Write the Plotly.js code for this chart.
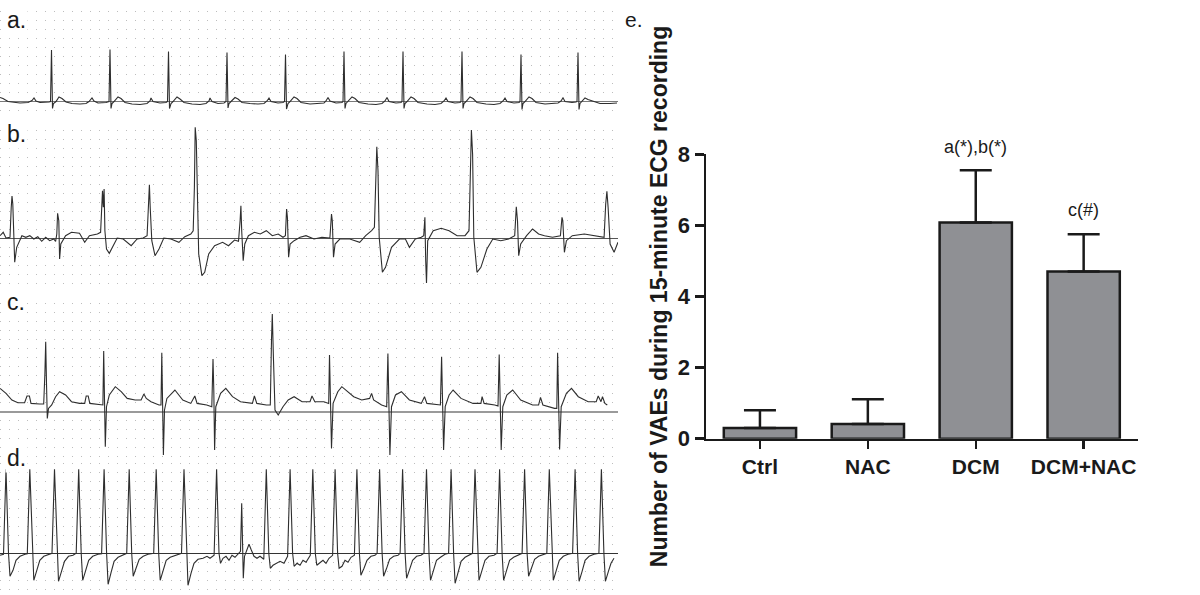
<!DOCTYPE html>
<html>
<head>
<meta charset="utf-8">
<script src="https://cdn.plot.ly/plotly-3.0.1.min.js"></script>
<style>html,body{margin:0;padding:0;background:#fff;}#chart{width:1200px;height:595px;}</style>
</head>
<body>
<div id="chart"></div>
<script>
// ---- ECG traces: [time (arbitrary units), amplitude relative to isoelectric line] ----
const ecgA = [[0,4],[3,3],[8,0],[14,-1],[20,-1.5],[28,-1],[32,1],[34,3.5],[36,0.5],[40,-1],[46,-1],[49,-0.5],[50.5,0],[51.5,51.5],[52.5,-7],[53.5,-2],[56,0],[59,4.5],[62,3],[66,-0.5],[72,-2],[80,-2.5],[86,-2],[89,0],[92,3.5],[94,0.5],[98,-1.5],[106,-1],[109,0],[110,52],[111,-7],[112,-2],[114,0],[118,4.5],[121,3],[125,-1],[132,-2.5],[140,-3],[147,-2],[150,0.5],[151,3.5],[153,0],[160,-1.5],[166,-1],[167.5,0],[168.5,50],[169.5,-7],[171,-2],[173,0],[177,4.5],[180,2.5],[184,-1],[192,-2.5],[200,-3],[206,-2],[209,0.5],[210,3.5],[212,0],[218,-2],[224,-1.5],[226,0],[227,49],[228,-6.5],[229,-2],[231,0],[235,4],[238,2.5],[242,-1],[250,-2],[258,-2.5],[264,-2],[267,0.5],[269,3.5],[271,0],[278,-1.5],[283,-1],[284.5,0],[285.5,47],[286.5,-7.5],[288,-2],[290,0],[294,4.5],[297,3],[301,-1],[310,-2.5],[318,-2],[324,-1.5],[326,0.5],[328,4],[330,0.5],[336,-1.5],[342,-1],[343,0],[344,50],[345,-7],[346,-2],[348,0],[352,4.5],[355,3],[359,-1],[368,-2.5],[376,-3],[382,-2],[385,0.5],[387,4],[389,0],[396,-1.5],[401,-1],[402,0],[403,50],[404,-7],[405,-2],[407,0],[411,4.5],[414,3],[418,-1],[427,-2.5],[435,-3],[441,-2],[444,0.5],[446,3.5],[448,0],[455,-1.5],[460,-1],[461,0],[462,50],[463,-7],[464,-2],[466,0],[470,4.5],[473,3],[477,-1],[486,-2.5],[494,-3],[500,-2],[503,0.5],[505,3.5],[507,0],[514,-1.5],[519,-1],[520,0],[521,47],[522,-8],[523,-2],[525,0],[529,4.5],[532,3],[536,-1],[545,-2.5],[553,-2],[558,-1.5],[561,0.5],[563,3.7],[565,0],[572,-1],[576,-0.5],[577,0],[578,49],[579,-8],[580,-2],[582,0],[585,3.5],[588,2],[593,0],[600,-2],[610,-2],[617,-1.5]];

const ecgB = [[0,2.3],[3.2,5.7],[6,0],[10,0.7],[11.2,30],[12,42],[12.8,34],[14.7,-24.3],[16.7,-9.3],[21.9,2.3],[25.8,0.7],[29.8,2.3],[33.8,-1],[37.8,1.3],[41.7,-3.3],[45.7,0.7],[49.7,-2.7],[53.7,-1],[55.6,-3.3],[56.8,4],[57.6,24.7],[58.8,17.3],[59.6,-21],[60.8,-6],[65.6,2.3],[71.5,5.7],[79.5,4.7],[84.7,-4.3],[89.4,2.3],[97.4,4],[100.6,5.7],[101.7,34],[102.5,47.3],[103.3,30.7],[104.1,49],[104.9,7.3],[106.5,-11],[109.3,-15.3],[113.3,-7.7],[117.2,0],[123.2,-1],[131.2,-7.7],[137.1,-1],[143.1,0],[147.1,2.3],[148.3,40.7],[149.4,53.3],[150.2,30.7],[151.8,-2.7],[155,-17.7],[159,-11],[163.8,0],[170.9,-1],[178.9,-4.3],[184.8,1.3],[190.8,4],[193.2,7.3],[194.4,50.7],[195.2,110.7],[196.3,97.3],[197.5,34],[198.7,-16],[201.9,-37.7],[204.7,-34.3],[208.7,-16],[214.6,-7.7],[222.6,-4.3],[228.5,-7.7],[234.5,-2],[238.5,-3.3],[240.1,17.3],[240.9,32.3],[241.7,7.3],[243.2,-22.7],[244.8,-6],[248.4,2.3],[254.4,5.7],[260.3,4],[266.3,7.3],[272.3,2.3],[278.2,4],[283,0.7],[285.4,2.3],[286.6,29],[287.4,20.7],[288.6,-19.3],[290.1,-6],[294.1,-2.7],[300.1,0.7],[306,2.3],[314,-1],[321.9,0.7],[329.9,0],[331.5,24],[332.3,17.3],[333.5,-19.3],[335.1,-6],[339.8,-1],[349.8,-1],[359.7,-4.3],[365.7,2.3],[371.6,7.3],[374.4,10.7],[375.6,67.3],[376.8,91.3],[378,67.3],[379.2,0.7],[382.4,-34.3],[385.5,-29.3],[391.5,-9.3],[399.4,-1],[405.4,-1],[409.4,-9.3],[415.3,-1],[421.3,0.7],[423.7,2.3],[424.9,20.7],[425.7,-22.7],[426.5,-45],[427.7,-2.7],[433.2,7.3],[441.2,9.7],[449.1,7.3],[457.1,2.3],[465,2.3],[469,7.3],[470.2,50.7],[471.4,108],[472.6,84],[473.8,0.7],[477,-34.3],[480.9,-29.3],[486.9,-11],[492.8,-1],[500.8,-2.7],[508.7,-1],[514.7,2.3],[516.3,31.3],[517.5,17.3],[518.7,-17.7],[520.7,-6],[526.6,2.3],[532.6,9],[538.6,4],[544.5,2.3],[552.5,0.7],[560.4,2.3],[562,20.7],[562.8,17.3],[564.4,-14.3],[566.4,-2.7],[572.3,2.3],[584.3,4],[596.2,2.3],[604.1,0.7],[605.7,34],[606.9,46.7],[608.1,30.7],[610.1,-6],[614.1,-14.3],[618,-4.3]];

const ecgC = [[0,23.3],[6,18.3],[11.9,11.7],[17.9,9],[24.6,9],[27,15.7],[29.4,15.7],[31,8.3],[39.7,7.7],[43.7,7.7],[44.9,38.3],[45.7,70],[46.5,28.3],[47.3,-6.7],[48.5,3.3],[51.7,6.7],[55.6,15],[59.6,20],[65.6,16.7],[71.5,10],[79.5,8.3],[84.7,8.3],[86.2,15.7],[88.2,15.7],[89.8,8.3],[99.4,6.7],[102.9,6.7],[103.7,60.7],[104.5,21.7],[105.3,-35],[106.5,5],[109.3,16.7],[115.3,25],[121.2,20],[127.2,13.3],[135.1,11.7],[141.1,11.7],[143.9,17.7],[146.3,13.3],[151,10],[159,6.7],[161,6.7],[161.8,59],[162.6,21.7],[163.4,-43.3],[164.5,1.7],[166.9,13.3],[174.9,21.7],[182.8,11.7],[190.8,8.3],[194.8,15.7],[197.1,8.3],[206.7,6.7],[211.8,5],[213,52.7],[213.8,21.7],[214.6,-38.3],[215.8,5],[220.6,18.3],[225.8,23.3],[232.5,15],[240.5,10],[252.4,8.3],[254.4,15.7],[256.8,8.3],[266.3,6.7],[270.3,6.7],[271.5,71.7],[272.3,97.7],[273.4,55],[275,1.7],[278.2,-3.3],[283,5],[288.2,11.7],[294.1,15],[302.1,10],[310,10],[312,15.7],[314.8,10],[323.9,10],[328.7,8.3],[329.5,56.7],[330.3,21.7],[331.5,-36.7],[333.1,8.3],[337.8,20],[341.8,25],[347.8,20],[353.7,15],[361.7,11.7],[369.6,13.3],[371.6,18.3],[373.6,11.7],[381.6,6.7],[386.7,5],[387.9,58.3],[388.7,21.7],[389.9,-43.3],[391.5,5],[395.5,16.7],[401.4,20],[409.4,11.7],[421.3,8.3],[424.5,15],[426.9,8.3],[437.2,6.7],[440.4,6.7],[441.6,55],[442.4,21.7],[443.6,-38.3],[445.2,5],[449.1,16.7],[453.1,21.7],[461,13.3],[473,8.3],[480.9,8.3],[482.1,15],[484.1,8.3],[494.8,6.7],[498,5.7],[499.2,57.3],[500,21.7],[501.2,-38.3],[502.8,5],[506.8,16.7],[512.7,21.7],[520.7,11.7],[532.6,6.7],[538.6,6.7],[540.5,14.3],[542.9,6.7],[554.5,3.3],[556.8,3.3],[557.6,59],[558.4,21.7],[559.6,-37.7],[561.2,5],[566.4,18.3],[571.5,23.3],[578.3,15],[588.2,10],[596.2,10],[598.2,15.7],[601,10],[602.5,15],[604.9,8.3],[607.3,6.7]];

const ecgD = [[0,-2],[3.5,-1],[6,84],[8.5,0],[10,-23],[13,-17],[16,-7],[20,-3],[25,-1],[27.3,-0.5],[29.8,84],[32.3,0],[33.8,-27],[36.8,-17],[39.8,-7],[43.8,-3],[49,-1.5],[52,0],[54.5,84],[57,0],[58.5,-28],[61.5,-18],[64.5,-8],[68.5,-3],[73,-2],[76.2,0],[78.7,84],[81.2,0],[82.7,-27],[85.7,-17],[88.7,-7],[92.7,-3],[98,-1],[101.6,-0.5],[104.1,84],[106.6,0],[108.1,-31],[111.1,-19],[114.1,-8],[118.1,-4],[122,-2],[126.7,0],[129.2,84],[131.7,0],[133.2,-23],[136.2,-15],[139.2,-6],[143.2,-3],[148,-1],[153.7,0],[156.2,84],[158.7,0],[160.2,-27],[163.2,-17],[166.2,-7],[170.2,-4],[176,-2],[181.5,0],[184,84],[186.5,0],[188,-32],[191,-20],[194,-10],[198,-6],[203,-5],[207,-3],[210,-5],[214.1,-2],[216.6,84],[219,0],[220.5,-10],[223,-5],[226,-3],[229,-7],[232,-2],[235,-4],[238,-1],[240.5,2],[241.7,50],[242.5,0],[243.3,-25],[244.5,-3],[247,5],[249,9],[251,4],[254,-3],[257,-5],[260,-3],[263.8,-6],[266.3,84],[268.8,0],[270.3,-15],[273,-12],[276,-10],[280,-8],[284,-10],[287.6,-3],[290.1,84],[292.6,0],[294.1,-13],[297,-10],[300,-12],[303,-7],[306,-9],[310.3,-2],[312.8,84],[315.3,0],[316.8,-12],[320,-9],[323,-7],[326,-10],[329,-5],[332.6,-2],[335.1,84],[337.6,0],[339.1,-15],[342,-13],[345,-7],[348,-9],[351,-4],[354.4,-2],[356.9,84],[359.4,0],[360.9,-22],[364,-15],[367,-7],[371,-3],[375,-2],[377.1,0],[379.6,84],[382.1,0],[383.6,-23],[386.6,-15],[389.6,-6],[393.6,-3],[398,-2],[400.1,0],[402.6,84],[405.1,0],[406.6,-25],[409.6,-16],[412.6,-7],[416.6,-3],[421,-2],[424,0],[426.5,84],[429,0],[430.5,-27],[433.5,-17],[436.5,-7],[440.5,-4],[445,-1],[448.6,0],[451.1,84],[453.6,0],[455.1,-30],[458.1,-19],[461.1,-8],[465.1,-4],[469,-2],[472.5,0],[475,84],[477.5,0],[479,-27],[482,-17],[485,-7],[489,-3],[494,-2],[497.1,0],[499.6,84],[502.1,0],[503.6,-27],[506.6,-17],[509.6,-7],[513.6,-4],[518,-2],[522.1,0],[524.6,84],[527.1,0],[528.6,-23],[531.6,-15],[534.6,-6],[538.6,-3],[543,-1.5],[546.8,0],[549.3,84],[551.8,0],[553.3,-27],[556.3,-17],[559.3,-7],[563.3,-3],[568,-1],[572.6,0],[575.1,84],[577.6,0],[579.1,-28],[582.1,-18],[585.1,-7],[589.1,-3],[594,-1],[598.9,0],[601.4,84],[603.9,0],[605.4,-28],[608.4,-18],[611,-10],[614,-5]];

// ---- Bar chart (panel e) ----
const groups = ["Ctrl", "NAC", "DCM", "DCM+NAC"];
const vaeMeans = [0.30, 0.41, 6.08, 4.70];
const vaeErrors = [0.50, 0.70, 1.47, 1.05];
const yTickVals = [0, 2, 4, 6, 8];
const yTickText = ["0", "2", "4", "6", "8"];
const sigLabels = ["a(*),b(*)", "c(#)"];
const panelLabels = ["a.", "b.", "c.", "d.", "e."];
const yTitle = "Number of VAEs during 15-minute ECG recording";

const FONT = "Arial, 'Liberation Sans', Helvetica, sans-serif";
const INK = "#1a1a1a";
const TRACE = "#2e2e2e";

function ecgTrace(pts, ax) {
  return {type: "scatter", mode: "lines", x: pts.map(p => p[0]), y: pts.map(p => p[1]),
    xaxis: "x" + ax, yaxis: "y" + ax, line: {color: TRACE, width: 1.1}, hoverinfo: "skip", showlegend: false};
}

const data = [
  ecgTrace(ecgA, ""), ecgTrace(ecgB, "2"), ecgTrace(ecgC, "3"), ecgTrace(ecgD, "4"),
  {type: "bar", x: groups, y: vaeMeans, xaxis: "x5", yaxis: "y5", width: 0.67,
    marker: {color: "#8f9094", line: {color: INK, width: 2.5}},
    error_y: {type: "data", symmetric: false, array: vaeErrors, arrayminus: [0,0,0,0], color: INK, thickness: 2.5, width: 16},
    hoverinfo: "skip", showlegend: false}
];

function py(yPix) { return 1 - yPix / 595; }

function ecgX(anchor) {
  return {domain: [0, 618/1200], range: [0, 618], anchor: anchor, showgrid: false, zeroline: false,
    showticklabels: false, ticks: "", showline: false, fixedrange: true};
}
function ecgY(anchor, top, bottom, base, zcol, zw) {
  return {domain: [py(bottom), py(top)], range: [base - bottom, base - top], anchor: anchor,
    showgrid: true, gridcolor: "#bdbdbd", gridwidth: 1, griddash: "1px,8px", dtick: 9, tick0: 0,
    zeroline: true, zerolinecolor: zcol, zerolinewidth: zw,
    showticklabels: false, ticks: "", showline: false, fixedrange: true};
}

const labelFont = {family: FONT, size: 23, color: INK};

const layout = {
  width: 1200, height: 595, margin: {l: 0, r: 0, t: 0, b: 0},
  paper_bgcolor: "#ffffff", plot_bgcolor: "#ffffff", showlegend: false,
  font: {family: FONT, color: INK},
  xaxis: ecgX("y"), yaxis: ecgY("x", 8, 118, 101.5, "#7a7a7a", 1.3),
  xaxis2: ecgX("y2"), yaxis2: ecgY("x2", 126, 290, 238, "#555555", 1),
  xaxis3: ecgX("y3"), yaxis3: ecgY("x3", 294, 460, 411.7, "#9a9a9a", 2),
  xaxis4: ecgX("y4"), yaxis4: ecgY("x4", 460, 592, 553.3, "#333333", 1),
  xaxis5: {domain: [706/1200, 1137.6/1200], anchor: "y5", type: "category", range: [-0.5, 3.5],
    showline: true, linecolor: INK, linewidth: 2.5, ticks: "outside", ticklen: 8, tickwidth: 2.5, tickcolor: INK,
    tickfont: {family: FONT, size: 21, weight: "bold", color: INK}, showgrid: false, zeroline: false, fixedrange: true},
  yaxis5: {domain: [py(438.7), py(154.3)], anchor: "x5", range: [0, 8], tickvals: yTickVals, ticktext: yTickText,
    showline: true, linecolor: INK, linewidth: 2.5, ticks: "outside", ticklen: 9, tickwidth: 2.5, tickcolor: INK,
    tickfont: {family: FONT, size: 22, weight: "bold", color: INK}, showgrid: false, zeroline: false, fixedrange: true,
    title: {text: yTitle, font: {family: FONT, size: 23, weight: "bold", color: INK}, standoff: 4}},
  annotations: [
    {text: panelLabels[0], xref: "paper", yref: "paper", x: 5/1200, y: py(20), xanchor: "left", yanchor: "middle", showarrow: false, font: labelFont, bgcolor: "#ffffff"},
    {text: panelLabels[1], xref: "paper", yref: "paper", x: 5/1200, y: py(134), xanchor: "left", yanchor: "middle", showarrow: false, font: labelFont, bgcolor: "#ffffff"},
    {text: panelLabels[2], xref: "paper", yref: "paper", x: 5/1200, y: py(302), xanchor: "left", yanchor: "middle", showarrow: false, font: labelFont, bgcolor: "#ffffff"},
    {text: panelLabels[3], xref: "paper", yref: "paper", x: 5/1200, y: py(458), xanchor: "left", yanchor: "middle", showarrow: false, font: labelFont, bgcolor: "#ffffff"},
    {text: panelLabels[4], xref: "paper", yref: "paper", x: 623/1200, y: py(19), xanchor: "left", yanchor: "middle", showarrow: false, font: {family: FONT, size: 21, color: INK}},
    {text: sigLabels[0], xref: "x5", yref: "paper", x: "DCM", y: py(146.7), xanchor: "center", yanchor: "middle", showarrow: false, font: {size: 18, color: INK}},
    {text: sigLabels[1], xref: "x5", yref: "paper", x: "DCM+NAC", y: py(210), xanchor: "center", yanchor: "middle", showarrow: false, font: {size: 18, color: INK}}
  ]
};

Plotly.newPlot("chart", data, layout, {staticPlot: true, displayModeBar: false});
</script>
</body>
</html>
